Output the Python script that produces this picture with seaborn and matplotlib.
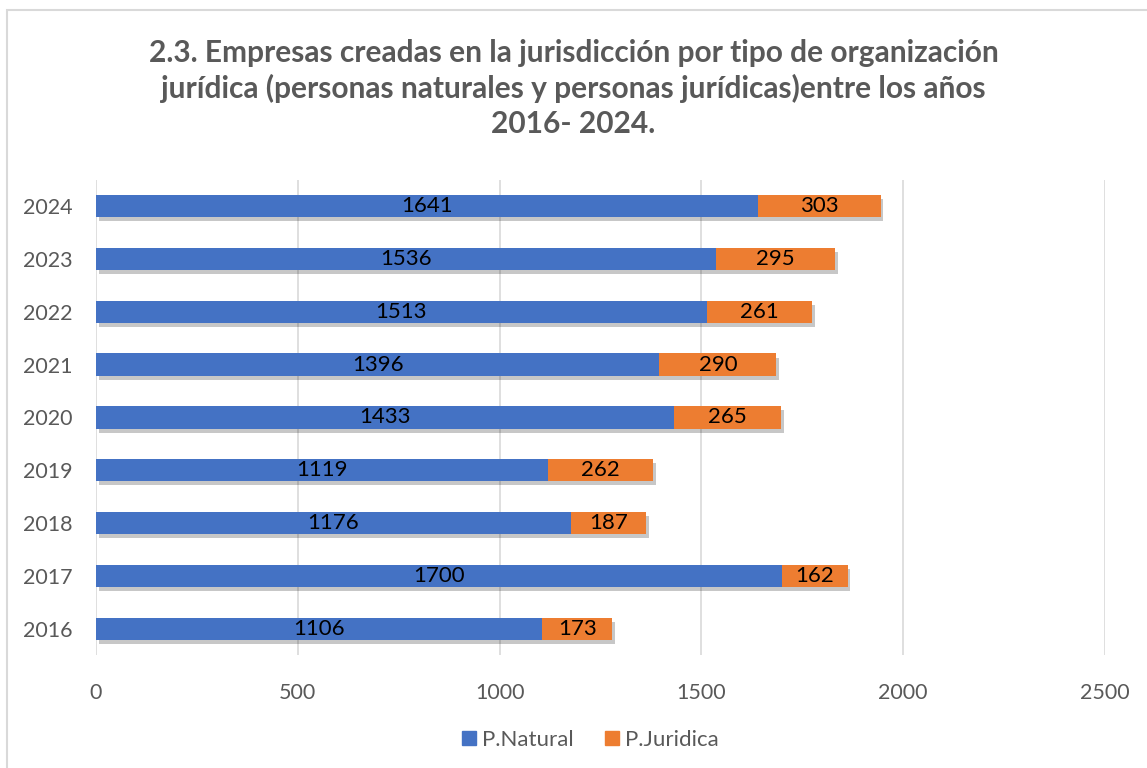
import seaborn as sns
import matplotlib.pyplot as plt
import matplotlib.patheffects as pe
from matplotlib.patches import Rectangle, Patch
import pandas as pd

years = ["2024", "2023", "2022", "2021", "2020", "2019", "2018", "2017", "2016"]
natural = [1641, 1536, 1513, 1396, 1433, 1119, 1176, 1700, 1106]
juridica = [303, 295, 261, 290, 265, 262, 187, 162, 173]

BLUE = "#4472C4"
ORANGE = "#ED7D31"
GREY = "#595959"

df = pd.DataFrame({"year": years, "natural": natural, "juridica": juridica})
df["total"] = df["natural"] + df["juridica"]

sns.set_style("white")
plt.rcParams["font.family"] = ["Lato", "DejaVu Sans"]

fig = plt.figure(figsize=(11.47, 7.68), dpi=100)
ax = fig.add_axes([0.0837, 0.147, 0.8797, 0.619])

shadow = [pe.SimplePatchShadow(offset=(2, -3), shadow_rgbFace="black", alpha=0.22), pe.Normal()]

# stacked: draw total in orange, then natural in blue on top
sns.barplot(data=df, y="year", x="total", order=years, color=ORANGE,
            width=0.42, saturation=1, ax=ax, orient="h")
for p in ax.containers[0]:
    p.set_path_effects(shadow)
sns.barplot(data=df, y="year", x="natural", order=years, color=BLUE,
            width=0.42, saturation=1, ax=ax, orient="h")
for p in ax.patches:
    p.set_linewidth(0)

ax.bar_label(ax.containers[1], labels=[str(v) for v in natural], label_type="center",
             fontsize=16, color="black")
for i, (n, j) in enumerate(zip(natural, juridica)):
    ax.text(n + j / 2, i, str(j), ha="center", va="center", fontsize=16, color="black")

ax.set_xlim(0, 2500)
ax.set_ylim(8.5, -0.5)
ax.set_xticks(range(0, 2501, 500))
ax.xaxis.grid(True, color="#D9D9D9", linewidth=1.2)
ax.set_axisbelow(True)
for s in ax.spines.values():
    s.set_visible(False)
ax.set_xlabel("")
ax.set_ylabel("")
ax.tick_params(axis="both", length=0, labelsize=15.5, labelcolor=GREY)
ax.tick_params(axis="x", pad=20)
ax.tick_params(axis="y", pad=17)

fig.text(0.5, 0.885,
         "2.3. Empresas creadas en la jurisdicción por tipo de organización\n"
         "jurídica (personas naturales y personas jurídicas)entre los años\n"
         "2016- 2024.",
         ha="center", va="center", fontsize=21.5, fontweight="bold", color=GREY,
         linespacing=1.3)

handles = [Patch(color=BLUE, label="P.Natural"), Patch(color=ORANGE, label="P.Juridica")]
fig.legend(handles=handles, loc="center", bbox_to_anchor=(0.515, 0.037), ncol=2,
           frameon=False, fontsize=16, labelcolor=GREY, handlelength=0.6,
           handleheight=0.6, handletextpad=0.3, columnspacing=1.4)

fig.patches.append(Rectangle((0.006, -0.01), 1.2, 0.997, transform=fig.transFigure,
                             fill=False, edgecolor="#D9D9D9", linewidth=1.5))

fig.savefig("out.png", dpi=100)
